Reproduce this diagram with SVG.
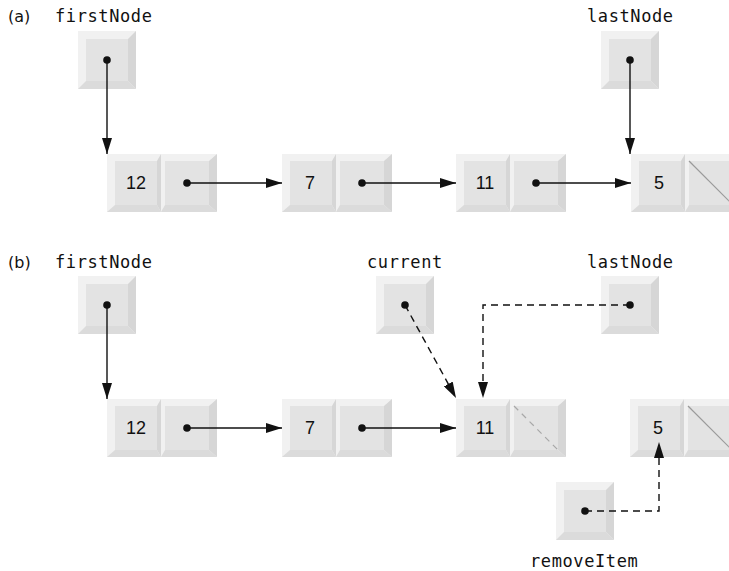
<svg xmlns="http://www.w3.org/2000/svg" xmlns:xlink="http://www.w3.org/1999/xlink" width="729" height="571" viewBox="0 0 729 571">
<defs>
<style>
.lbl{font-family:"DejaVu Sans Mono","Liberation Mono",monospace;font-size:17px;letter-spacing:0.6px;fill:#111}
.tag{font-family:"DejaVu Sans","Liberation Sans",sans-serif;font-size:16px;fill:#111}
.num{font-family:"Liberation Sans",Arial,sans-serif;font-size:18px;fill:#111;text-anchor:middle}
.ln{stroke:#111;stroke-width:1.4;fill:none}
.dash{stroke:#111;stroke-width:1.4;fill:none;stroke-dasharray:7 5}
.null{stroke:#9a9a9a;stroke-width:1.2}
.nulld{stroke:#a8a8a8;stroke-width:1.2;stroke-dasharray:6 5}
</style>
<marker id="ah" viewBox="0 0 16 10" refX="16" refY="5" markerWidth="16" markerHeight="10" markerUnits="userSpaceOnUse" orient="auto">
<path d="M0,0 L16,5 L0,10 Z" fill="#111"/>
</marker>
<g id="ptr">
<rect width="58" height="58" fill="#f1f1f1"/>
<polygon points="58,0 58,58 50,50 50,8" fill="#d6d6d6"/>
<polygon points="0,58 58,58 50,50 8,50" fill="#dbdbdb"/>
<rect x="8" y="8" width="42" height="42" fill="#e3e3e3"/>
</g>
<g id="node">
<rect width="54" height="58" fill="#f1f1f1"/>
<polygon points="54,0 54,58 50,51 50,7" fill="#d6d6d6"/>
<polygon points="0,58 54,58 50,51 8,51" fill="#dbdbdb"/>
<rect x="8" y="7" width="42" height="44" fill="#e3e3e3"/>
<rect x="54" width="56" height="58" fill="#f1f1f1"/>
<polygon points="110,0 110,58 102,51 102,7" fill="#d6d6d6"/>
<polygon points="54,58 110,58 102,51 58,51" fill="#dbdbdb"/>
<rect x="58" y="7" width="44" height="44" fill="#e3e3e3"/>
</g>
<circle id="dot" r="3.8" fill="#111"/>
</defs>
<rect width="729" height="571" fill="#fff"/>

<g id="labels">
<text class="tag" x="8" y="22">(a)</text>
<text class="tag" x="8" y="268">(b)</text>
</g>

<!-- (a) -->
<g id="a-firstNode"><use xlink:href="#ptr" x="78" y="31"/><text class="lbl" x="55" y="22">firstNode</text></g>
<g id="a-lastNode"><use xlink:href="#ptr" x="601" y="31"/><text class="lbl" x="587" y="22">lastNode</text></g>
<g id="a-n12"><use xlink:href="#node" x="107" y="154"/><text class="num" x="136" y="189">12</text></g>
<g id="a-n7"><use xlink:href="#node" x="282" y="154"/><text class="num" x="310" y="189">7</text></g>
<g id="a-n11"><use xlink:href="#node" x="456" y="154"/><text class="num" x="485" y="189">11</text></g>
<g id="a-n5"><use xlink:href="#node" x="631" y="154"/><text class="num" x="659" y="189">5</text><line class="null" x1="689" y1="161" x2="733" y2="205"/></g>

<!-- (b) -->
<g id="b-firstNode"><use xlink:href="#ptr" x="78" y="276"/><text class="lbl" x="55" y="268">firstNode</text></g>
<g id="b-current"><use xlink:href="#ptr" x="376" y="276"/><text class="lbl" x="367" y="268">current</text></g>
<g id="b-lastNode"><use xlink:href="#ptr" x="601" y="276"/><text class="lbl" x="587" y="268">lastNode</text></g>
<g id="b-removeItem"><use xlink:href="#ptr" x="556" y="482"/><text class="lbl" x="530" y="567">removeItem</text></g>
<g id="b-n12"><use xlink:href="#node" x="107" y="399"/><text class="num" x="136" y="434">12</text></g>
<g id="b-n7"><use xlink:href="#node" x="282" y="399"/><text class="num" x="310" y="434">7</text></g>
<g id="b-n11"><use xlink:href="#node" x="456" y="399"/><text class="num" x="485" y="434">11</text><line class="nulld" x1="514" y1="406" x2="558" y2="450"/></g>
<g id="b-n5"><use xlink:href="#node" x="630" y="399"/><text class="num" x="658" y="434">5</text><line class="null" x1="688" y1="406" x2="732" y2="450"/></g>

<g id="connectors">
<line class="ln" x1="107" y1="60" x2="107" y2="154" marker-end="url(#ah)"/>
<line class="ln" x1="630" y1="60" x2="630" y2="154" marker-end="url(#ah)"/>
<line class="ln" x1="187" y1="183" x2="282" y2="183" marker-end="url(#ah)"/>
<line class="ln" x1="362" y1="183" x2="456" y2="183" marker-end="url(#ah)"/>
<line class="ln" x1="536" y1="183" x2="631" y2="183" marker-end="url(#ah)"/>
<use xlink:href="#dot" x="107" y="60"/>
<use xlink:href="#dot" x="630" y="60"/>
<use xlink:href="#dot" x="187" y="183"/>
<use xlink:href="#dot" x="362" y="183"/>
<use xlink:href="#dot" x="536" y="183"/>

<line class="ln" x1="107" y1="305" x2="107" y2="399" marker-end="url(#ah)"/>
<line class="ln" x1="187" y1="428" x2="282" y2="428" marker-end="url(#ah)"/>
<line class="ln" x1="362" y1="428" x2="456" y2="428" marker-end="url(#ah)"/>
<line class="dash" x1="405" y1="305" x2="456" y2="398" marker-end="url(#ah)"/>
<polyline class="dash" points="630,305 483,305 483,398" marker-end="url(#ah)"/>
<polyline class="dash" points="585,511 659,511 659,442" marker-end="url(#ah)"/>
<use xlink:href="#dot" x="107" y="305"/>
<use xlink:href="#dot" x="187" y="428"/>
<use xlink:href="#dot" x="362" y="428"/>
<use xlink:href="#dot" x="405" y="305"/>
<use xlink:href="#dot" x="630" y="305"/>
<use xlink:href="#dot" x="585" y="511"/>
</g>
</svg>
